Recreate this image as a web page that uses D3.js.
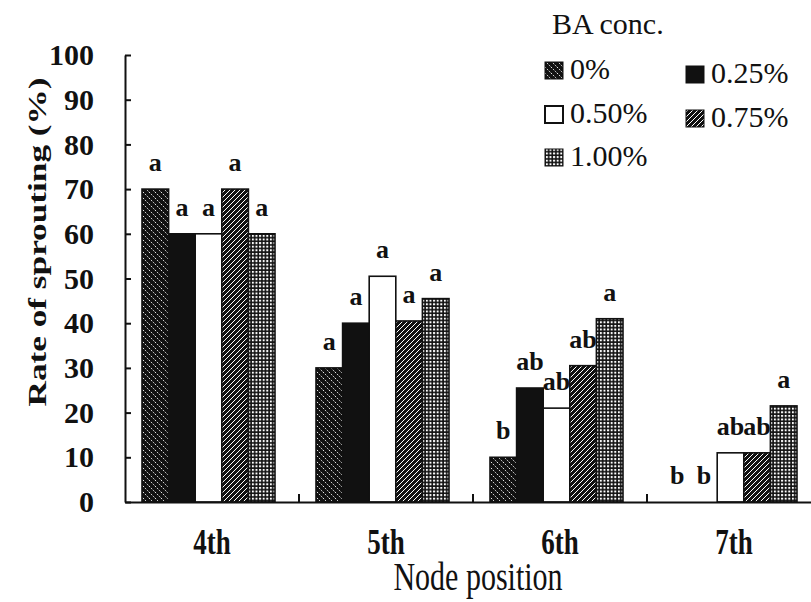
<!DOCTYPE html>
<html>
<head>
<meta charset="utf-8">
<script src="https://cdn.jsdelivr.net/npm/d3@7"></script>
<style>
body { margin: 0; background: #fff; }
svg { display: block; }
</style>
</head>
<body>
<svg id="main" width="811" height="602"></svg>
<script>
// data
var nodes = ["4th", "5th", "6th", "7th"];
var concs = ["0%", "0.25%", "0.50%", "0.75%", "1.00%"];
var rate0 = [70, 30, 10, 0];
var rate25 = [60, 40, 25.5, 0];
var rate50 = [60, 50.5, 21, 11];
var rate75 = [70, 40.5, 30.5, 11];
var rate100 = [60, 45.5, 41, 21.5];
var sig0 = ["a", "a", "b", "b"];
var sig25 = ["a", "a", "ab", "b"];
var sig50 = ["a", "a", "ab", "ab"];
var sig75 = ["a", "a", "ab", "ab"];
var sig100 = ["a", "a", "a", "a"];
var yTicks = [0, 10, 20, 30, 40, 50, 60, 70, 80, 90, 100];

var rates = [rate0, rate25, rate50, rate75, rate100];
var sigs = [sig0, sig25, sig50, sig75, sig100];
var fills = ["url(#p0)", "#111", "#fff", "url(#p75)", "url(#p100)"];
var serif = "Liberation Serif";

var svg = d3.select("#main").attr("font-family", serif);
svg.append("rect").attr("width", 811).attr("height", 602).attr("fill", "#fff");

// patterns
var defs = svg.append("defs");
var p0 = defs.append("pattern").attr("id", "p0").attr("patternUnits", "userSpaceOnUse").attr("width", 6).attr("height", 6);
p0.append("rect").attr("width", 6).attr("height", 6).attr("fill", "#111");
p0.append("path").attr("d", "M0,0 L6,6 M-3,3 L0,6 M3,-3 L6,0").attr("stroke", "#fff").attr("stroke-width", 0.9).attr("stroke-dasharray", "1.6,1.4");
var p75 = defs.append("pattern").attr("id", "p75").attr("patternUnits", "userSpaceOnUse").attr("width", 5).attr("height", 5);
p75.append("rect").attr("width", 5).attr("height", 5).attr("fill", "#111");
p75.append("path").attr("d", "M0,5 L5,0 M-2.5,2.5 L2.5,-2.5 M2.5,7.5 L7.5,2.5").attr("stroke", "#fff").attr("stroke-width", 1);
var p100 = defs.append("pattern").attr("id", "p100").attr("patternUnits", "userSpaceOnUse").attr("width", 3.6).attr("height", 3.6);
p100.append("rect").attr("width", 3.6).attr("height", 3.6).attr("fill", "#111");
p100.append("rect").attr("x", 0.9).attr("y", 0.9).attr("width", 2).attr("height", 2).attr("fill", "#fff");

var x0 = d3.scaleBand().domain(nodes).range([125, 821]);
var x1 = d3.scaleBand().domain(concs).range([17, 150]);
var y = d3.scaleLinear().domain([0, 100]).range([502, 55]);

// bars
var groups = svg.append("g").selectAll("g").data(nodes).join("g")
	.attr("transform", function(d) { return "translate(" + x0(d) + ",0)"; });
groups.each(function(node, gi) {
	var g = d3.select(this);
	concs.forEach(function(c, si) {
		var v = rates[si][gi];
		if (v > 0) {
			g.append("rect").attr("x", x1(c)).attr("y", y(v)).attr("width", x1.bandwidth()).attr("height", y(0) - y(v))
				.attr("fill", fills[si]).attr("stroke", "#111").attr("stroke-width", 1.6);
		}
		g.append("text").attr("x", x1(c) + x1.bandwidth() / 2).attr("y", y(v) - 18).attr("fill", "#111")
			.attr("text-anchor", "middle").attr("font-size", 26).attr("font-weight", "bold").text(sigs[si][gi]);
	});
});

// y axis
var yAxis = svg.append("g").attr("transform", "translate(125,0)")
	.call(d3.axisLeft(y).tickValues(yTicks).tickSize(-6).tickSizeOuter(0).tickPadding(31));
yAxis.attr("font-family", serif);
yAxis.selectAll("path, line").attr("stroke", "#111").attr("stroke-width", 2);
yAxis.selectAll("text").attr("font-size", 30).attr("font-weight", "bold").attr("fill", "#111");

// x axis
var xAxis = svg.append("g").attr("transform", "translate(0,502)")
	.call(d3.axisBottom(x0).tickSize(0).tickSizeOuter(0).tickPadding(0));
xAxis.attr("font-family", serif);
xAxis.select(".domain").attr("stroke", "#111").attr("stroke-width", 2);
xAxis.selectAll(".tick text").attr("font-size", 27).attr("font-weight", "bold").attr("fill", "#111")
	.attr("dy", null).attr("y", 0).attr("transform", "translate(0,52) scale(1,1.3)");
xAxis.selectAll(".bound").data(nodes.slice(1)).join("line").attr("class", "bound")
	.attr("x1", function(d) { return x0(d); }).attr("x2", function(d) { return x0(d); })
	.attr("y1", 0).attr("y2", -8).attr("stroke", "#111").attr("stroke-width", 2);

// axis titles
svg.append("text").attr("transform", "translate(478,590) scale(1,1.3)").attr("text-anchor", "middle")
	.attr("font-size", 30).attr("fill", "#111").text("Node position");
svg.append("text").attr("transform", "translate(46,242) rotate(-90)").attr("text-anchor", "middle")
	.attr("font-size", 26).attr("font-weight", "bold").attr("fill", "#111").attr("textLength", 329).attr("lengthAdjust", "spacingAndGlyphs")
	.text("Rate of sprouting (%)");

// legend
svg.append("text").attr("x", 552).attr("y", 34).attr("font-size", 30).attr("fill", "#111").text("BA conc.");
var legPos = [[545, 79], [686, 83], [545, 123], [686, 127], [545, 166]];
concs.forEach(function(c, i) {
	var lg = svg.append("g").attr("transform", "translate(" + legPos[i][0] + "," + legPos[i][1] + ")");
	lg.append("rect").attr("x", 0).attr("y", -17).attr("width", 18).attr("height", 17)
		.attr("fill", fills[i]).attr("stroke", "#111").attr("stroke-width", i == 2 ? 2 : 1);
	lg.append("text").attr("x", 25).attr("y", 0).attr("font-size", 30).attr("fill", "#111").text(c);
});
</script>
</body>
</html>
